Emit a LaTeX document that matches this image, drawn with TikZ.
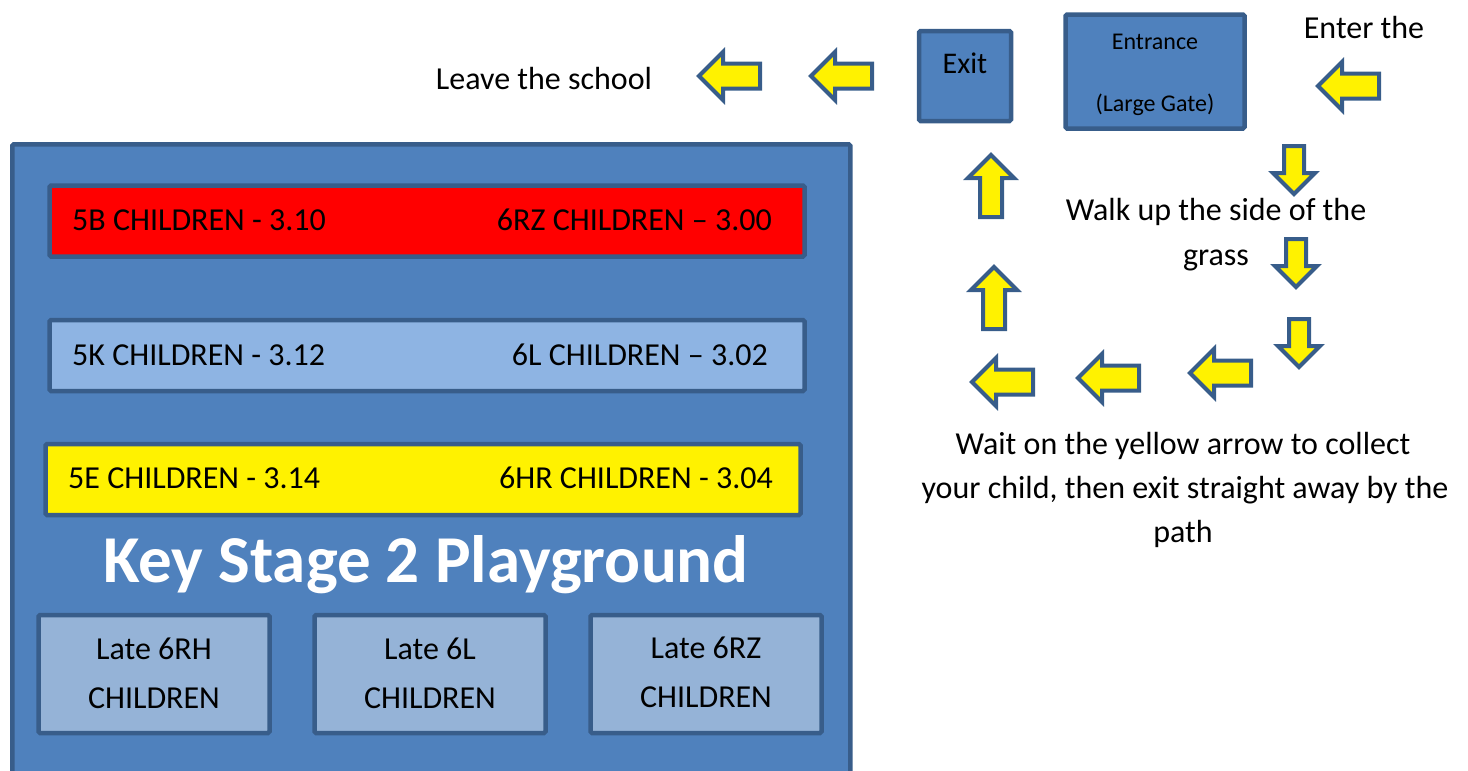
\documentclass[tikz,border=0pt]{standalone}
\usepackage{fontspec}
\setmainfont{Carlito}
\usetikzlibrary{shapes.arrows}

\definecolor{zoneblue}{HTML}{4F81BD}
\definecolor{edgeblue}{HTML}{385D8A}
\definecolor{barblue}{HTML}{8EB4E3}
\definecolor{lateblue}{HTML}{95B3D7}

\tikzset{
  zone/.style={draw=edgeblue, fill=zoneblue, line width=4.5pt, rounded corners=1.5pt, inner sep=0pt},
  bar/.style={zone, minimum width=755pt, minimum height=71pt},
  latebox/.style={zone, fill=lateblue, minimum width=231pt, minimum height=118pt},
  txt/.style={inner sep=0pt, font=\fontsize{32}{38}\selectfont},
  yarrow/.style={single arrow, draw=edgeblue, fill=yellow, line width=4pt, anchor=tail},
  leftarrow/.style={yarrow, shape border rotate=180, minimum height=61pt,
    inner sep=10.5pt, single arrow head extend=11.5pt},
  uparrow/.style={yarrow, shape border rotate=90, minimum height=62pt,
    inner sep=9pt, single arrow head extend=12pt},
  downarrow/.style={yarrow, shape border rotate=270, minimum height=48pt,
    inner sep=8pt, single arrow head extend=11pt}
}

\begin{document}
\begin{tikzpicture}[x=1pt, y=-1pt]
  \useasboundingbox (0,0) rectangle (1468,771);
  \clip (0,0) rectangle (1468,771);

  % playground
  \node[zone, anchor=north west, minimum width=838pt, minimum height=660pt] (ks2) at (10,142) {};

  \node[bar, fill=red] (redbar) at (427,221) {};
  \node[txt, anchor=base west] (c5b) at (72,230) {5B CHILDREN - 3.10};
  \node[txt, anchor=base east] (c6rz) at (772,230) {6RZ CHILDREN -- 3.00};

  \node[bar, fill=barblue] (bluebar) at (427,355.5) {};
  \node[txt, anchor=base west] (c5k) at (72,365) {5K CHILDREN - 3.12};
  \node[txt, anchor=base east] (c6l) at (768,365) {6L CHILDREN -- 3.02};

  \node[bar, fill=yellow] (yellowbar) at (423,479.5) {};
  \node[txt, anchor=base west] (c5e) at (68,488) {5E CHILDREN - 3.14};
  \node[txt, anchor=base east] (c6hr) at (773,488) {6HR CHILDREN - 3.04};

  \node[txt, font=\fontsize{67}{80}\selectfont\bfseries, text=white, anchor=base] (title) at (426,582) {Key Stage 2 Playground};

  \node[latebox] (late1) at (154,674) {};
  \node[txt, anchor=base] (late1a) at (154,659) {Late 6RH};
  \node[txt, anchor=base] (late1b) at (154,708) {CHILDREN};

  \node[latebox] (late2) at (430,674) {};
  \node[txt, anchor=base] (late2a) at (430,659) {Late 6L};
  \node[txt, anchor=base] (late2b) at (430,708) {CHILDREN};

  \node[latebox] (late3) at (706,674) {};
  \node[txt, anchor=base] (late3a) at (706,658) {Late 6RZ};
  \node[txt, anchor=base] (late3b) at (706,707) {CHILDREN};

  % gates
  \node[zone, minimum width=92pt, minimum height=90pt] (exit) at (965,76) {};
  \node[txt, font=\fontsize{30}{36}\selectfont, anchor=base] (exittxt) at (965,73) {Exit};

  \node[zone, minimum width=179pt, minimum height=114pt] (entrance) at (1155,71.5) {};
  \node[txt, font=\fontsize{24}{29}\selectfont, anchor=base] (enttxt) at (1155,49) {Entrance};
  \node[txt, font=\fontsize{24}{29}\selectfont, anchor=base] (gatetxt) at (1155,111) {(Large Gate)};

  % route
  \node[txt, anchor=base] (leave) at (544,89) {Leave the school};
  \node[leftarrow] (lv1) at (762,76) {};
  \node[leftarrow] (lv2) at (874,76) {};

  \node[txt, anchor=base] (enter) at (1364,38) {Enter the};
  \node[leftarrow] (in1) at (1381,86) {};

  \node[downarrow] (dn1) at (1294,144) {};
  \node[txt, anchor=base] (walk1) at (1216,220) {Walk up the side of the};
  \node[txt, anchor=base] (walk2) at (1216,265) {grass};
  \node[downarrow] (dn2) at (1296,237) {};
  \node[downarrow] (dn3) at (1299,317) {};

  \node[leftarrow] (wt3) at (1253,373) {};
  \node[leftarrow] (wt2) at (1141,378) {};
  \node[leftarrow] (wt1) at (1035,382) {};

  \node[uparrow] (up2) at (994,331) {};
  \node[uparrow] (up1) at (991,219) {};

  \node[txt, anchor=base] (wait1) at (1183,454) {Wait on the yellow arrow to collect};
  \node[txt, anchor=base] (wait2) at (1185,498) {your child, then exit straight away by the};
  \node[txt, anchor=base] (wait3) at (1183,542) {path};
\end{tikzpicture}
\end{document}
